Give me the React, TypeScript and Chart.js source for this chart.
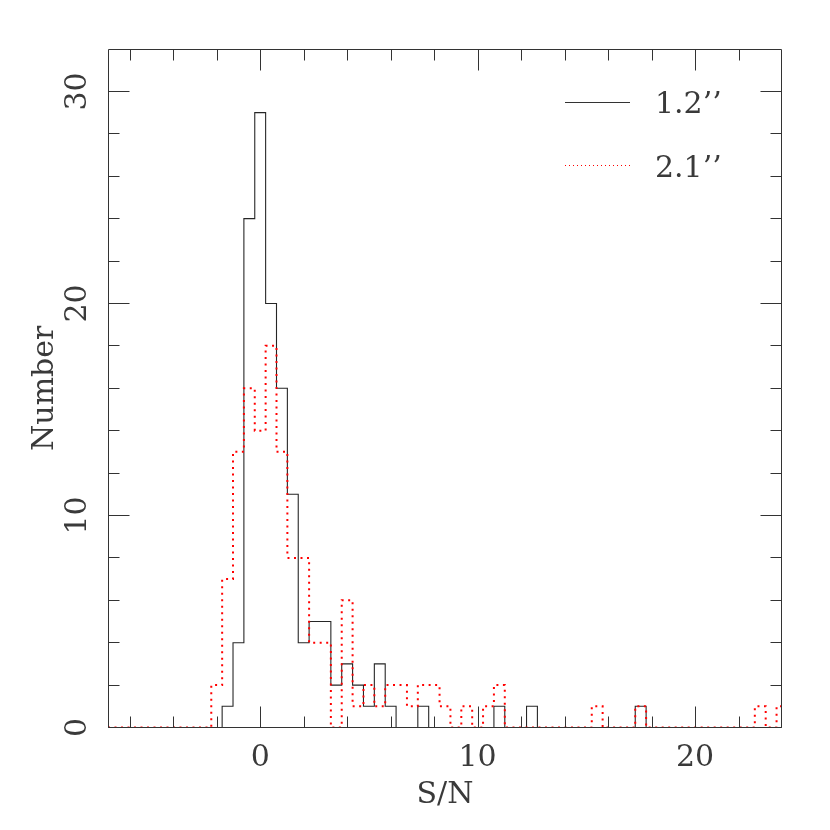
import React, { useEffect, useRef } from "react";
import { Chart, registerables } from "chart.js";

Chart.register(...registerables);

// Histogram bins (centers, width 0.5) of S/N
const binCenters = [
  -7, -6.5, -6, -5.5, -5, -4.5, -4, -3.5, -3, -2.5,
  -2, -1.5, -1, -0.5, 0, 0.5, 1, 1.5, 2, 2.5,
  3, 3.5, 4, 4.5, 5, 5.5, 6, 6.5, 7, 7.5,
  8, 8.5, 9, 9.5, 10, 10.5, 11, 11.5, 12, 12.5,
  13, 13.5, 14, 14.5, 15, 15.5, 16, 16.5, 17, 17.5,
  18, 18.5, 19, 19.5, 20, 20.5, 21, 21.5, 22, 22.5,
  23, 23.5, 24,
];

// 1.2'' aperture (black solid)
const counts12 = [
  0, 0, 0, 0, 0, 0, 0, 0, 0, 0,
  0, 1, 4, 24, 29, 20, 16, 11, 4, 5,
  5, 2, 3, 2, 1, 3, 1, 0, 0, 1,
  0, 0, 0, 0, 0, 0, 1, 0, 0, 1,
  0, 0, 0, 0, 0, 0, 0, 0, 0, 1,
  0, 0, 0, 0, 0, 0, 0, 0, 0, 0,
  0, 0, 0,
];

// 2.1'' aperture (red dotted)
const counts21 = [
  0, 0, 0, 0, 0, 0, 0, 0, 0, 0,
  2, 7, 13, 16, 14, 18, 13, 8, 8, 4,
  4, 0, 6, 1, 2, 1, 2, 2, 1, 2,
  2, 1, 0, 1, 0, 1, 2, 0, 0, 0,
  0, 0, 0, 0, 0, 1, 0, 0, 0, 1,
  0, 0, 0, 0, 0, 0, 0, 0, 0, 0,
  1, 0, 1,
];

const xMajorTicks = [0, 10, 20];
const xMinorTicks = [-6, -4, -2, 2, 4, 6, 8, 12, 14, 16, 18, 22];
const yMajorTicks = [0, 10, 20, 30];
const yMinorTicks = [2, 4, 6, 8, 12, 14, 16, 18, 22, 24, 26, 28];
const seriesLabels = ["1.2\u2019\u2019", "2.1\u2019\u2019"];
const xTitle = "S/N";
const yTitle = "Number";

const FONT = "'DejaVu Serif', serif";
const TEXT = "#3a3a3a";
const AXIS = "#333333";
const RED = "rgb(255,0,0)";

export default function App() {
  const ref = useRef<HTMLCanvasElement | null>(null);

  useEffect(() => {
    const canvas = ref.current;
    if (!canvas) return;

    const framePlugin = {
      id: "frameTicks",
      afterDatasetsDraw(chart: any) {
        const { ctx, chartArea: a, scales } = chart;
        const xs = scales.x;
        const ys = scales.y;
        ctx.save();
        ctx.strokeStyle = AXIS;
        ctx.lineWidth = 1;
        ctx.setLineDash([]);
        const L = a.left + 0.5;
        const R = a.right - 0.5;
        const T = a.top + 0.5;
        const B = a.bottom;
        ctx.beginPath();
        ctx.moveTo(L, T);
        ctx.lineTo(R, T);
        ctx.lineTo(R, B);
        ctx.lineTo(L, B);
        ctx.closePath();
        ctx.stroke();

        const xTick = (v: number, len: number) => {
          const px = Math.round(xs.getPixelForValue(v)) + 0.5;
          ctx.moveTo(px, B);
          ctx.lineTo(px, B - len);
          ctx.moveTo(px, T);
          ctx.lineTo(px, T + len);
        };
        const yTick = (v: number, len: number) => {
          const py = Math.round(ys.getPixelForValue(v) - 0.5) + 0.5;
          ctx.moveTo(L, py);
          ctx.lineTo(L + len, py);
          ctx.moveTo(R, py);
          ctx.lineTo(R - len, py);
        };
        ctx.beginPath();
        xMajorTicks.forEach((v) => xTick(v, 21));
        xMinorTicks.forEach((v) => xTick(v, 11));
        yMajorTicks.forEach((v) => yTick(v, 21));
        yMinorTicks.forEach((v) => yTick(v, 11));
        ctx.stroke();

        // y tick labels, rotated
        ctx.fillStyle = TEXT;
        ctx.font = `30px ${FONT}`;
        ctx.textAlign = "center";
        ctx.textBaseline = "middle";
        yMajorTicks.forEach((v) => {
          const py = ys.getPixelForValue(v);
          ctx.save();
          ctx.translate(a.left - 30, py);
          ctx.rotate(-Math.PI / 2);
          ctx.fillText(String(v), 0, 0);
          ctx.restore();
        });

        // legend
        const lx0 = a.left + 457;
        const lx1 = a.left + 522;
        const tx = a.left + 547;
        ctx.textAlign = "left";
        ctx.textBaseline = "alphabetic";
        ctx.beginPath();
        ctx.strokeStyle = AXIS;
        ctx.lineWidth = 1;
        ctx.moveTo(lx0, a.top + 53.5);
        ctx.lineTo(lx1, a.top + 53.5);
        ctx.stroke();
        ctx.fillText(seriesLabels[0], tx, a.top + 64);

        ctx.beginPath();
        ctx.strokeStyle = RED;
        ctx.lineWidth = 1;
        ctx.setLineDash([1, 3]);
        ctx.moveTo(lx0, a.top + 116.5);
        ctx.lineTo(lx1, a.top + 116.5);
        ctx.stroke();
        ctx.setLineDash([]);
        ctx.fillText(seriesLabels[1], tx, a.top + 128);
        ctx.restore();
      },
    };

    const chart = new Chart(canvas, {
      type: "line",
      data: {
        datasets: [
          {
            label: seriesLabels[1],
            data: binCenters.map((c, i) => ({ x: c, y: counts21[i] })),
            stepped: "middle",
            borderColor: RED,
            borderWidth: 2,
            borderDash: [2, 4.5],
            pointRadius: 0,
            fill: false,
            order: 1,
          },
          {
            label: seriesLabels[0],
            data: binCenters.map((c, i) => ({ x: c, y: counts12[i] })),
            stepped: "middle",
            borderColor: "#262626",
            borderWidth: 1.1,
            pointRadius: 0,
            fill: false,
            order: 2,
          },
        ],
      },
      options: {
        animation: false,
        responsive: false,
        devicePixelRatio: 1,
        layout: { padding: { top: 49, right: 48, left: 0, bottom: 0 } },
        plugins: {
          legend: { display: false },
          tooltip: { enabled: false },
        },
        scales: {
          x: {
            type: "linear",
            position: "bottom",
            min: -7,
            max: 24,
            afterBuildTicks: (s: any) => {
              s.ticks = xMajorTicks.map((v) => ({ value: v }));
            },
            afterFit: (s: any) => {
              s.height = 102.5;
            },
            grid: { display: false, drawTicks: false },
            border: { display: false },
            ticks: {
              padding: 13,
              color: TEXT,
              font: { family: FONT, size: 30 },
              maxRotation: 0,
              minRotation: 0,
              autoSkip: false,
            },
            title: {
              display: true,
              text: xTitle,
              color: TEXT,
              font: { family: FONT, size: 30 },
              padding: { top: 0, bottom: 17 },
            },
          },
          y: {
            type: "linear",
            position: "left",
            min: 0,
            max: 32,
            afterBuildTicks: (s: any) => {
              s.ticks = yMajorTicks.map((v) => ({ value: v }));
            },
            afterFit: (s: any) => {
              s.width = 108;
            },
            grid: { display: false, drawTicks: false },
            border: { display: false },
            ticks: { display: false },
            title: {
              display: true,
              text: yTitle,
              color: TEXT,
              font: { family: FONT, size: 30 },
              padding: { top: 27, bottom: 0 },
            },
          },
        },
      },
      plugins: [framePlugin],
    });

    return () => chart.destroy();
  }, []);

  return (
    <div style={{ position: "absolute", left: 0, top: 0, width: 830, height: 830, background: "#fff" }}>
      <canvas ref={ref} width={830} height={830} style={{ display: "block" }} />
    </div>
  );
}
